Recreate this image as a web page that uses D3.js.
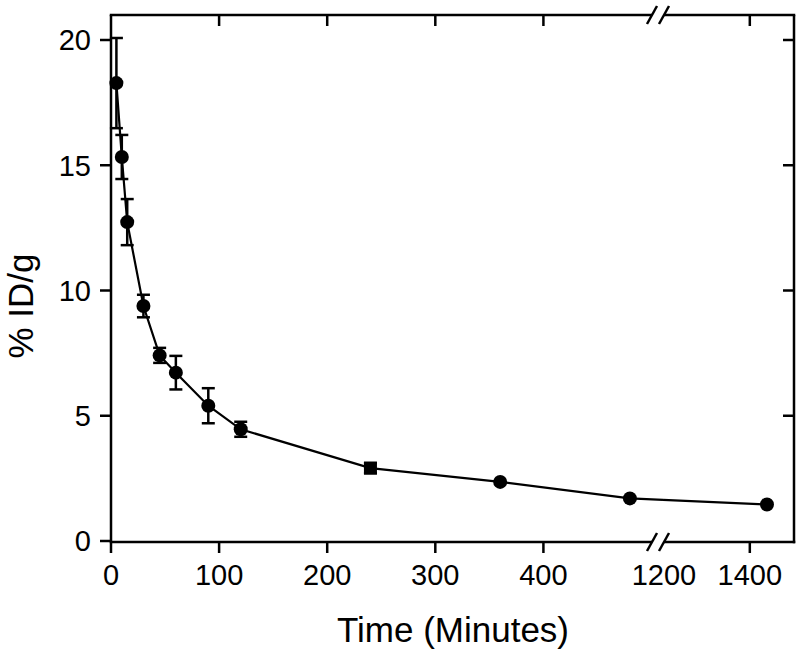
<!DOCTYPE html>
<html>
<head>
<meta charset="utf-8">
<script src="https://cdn.jsdelivr.net/npm/d3@7"></script>
<style>
  body { margin: 0; background: #fff; }
  svg { display: block; }
  text { font-family: "Liberation Sans", Arial, sans-serif; fill: #000; }
</style>
</head>
<body>
<div id="chart"></div>
<script>
// time points (minutes), mean %ID/g, error (+/-)
var times  = [5, 10, 15, 30, 45, 60, 90, 120, 240, 360, 480, 1440];
var values = [18.28, 15.33, 12.73, 9.38, 7.41, 6.72, 5.40, 4.46, 2.91, 2.36, 1.70, 1.46];
var errors = [1.8, 0.88, 0.92, 0.45, 0.3, 0.67, 0.7, 0.3, 0.2, 0, 0, 0];
var markers = ["circle","circle","circle","circle","circle","circle","circle","circle","square","circle","circle","circle"];

var xTicksLeft  = [0, 100, 200, 300, 400];
var xTicksRight = [1200, 1400];
var yTicks      = [0, 5, 10, 15, 20];

var width = 800, height = 654;
var margin = {top: 15, right: 6, bottom: 112, left: 111};
var breakX = 658;       // pixel where the axis is broken
var gapHalf = 6;

var svg = d3.select("#chart").append("svg")
  .attr("width", width)
  .attr("height", height);

var plotRight  = width - margin.right;
var plotBottom = height - margin.bottom;

// two x scales for the broken axis
var xLeft = d3.scaleLinear().domain([0, 506]).range([margin.left, breakX]);
var xRight = d3.scaleLinear().domain([1186, 1503]).range([breakX, plotRight]);
function xPos(t){ return t < 1000 ? xLeft(t) : xRight(t); }

var y = d3.scaleLinear().domain([0, 20]).range([plotBottom - 1, 40]);

var data = times.map(function(t, i){
  return {t: t, v: values[i], e: errors[i], m: markers[i]};
});

// ---- frame ----
var frame = svg.append("g").attr("stroke", "#000").attr("stroke-width", 2.5).attr("fill", "none");
frame.append("line").attr("x1", margin.left).attr("x2", margin.left).attr("y1", margin.top).attr("y2", plotBottom);
frame.append("line").attr("x1", plotRight).attr("x2", plotRight).attr("y1", margin.top).attr("y2", plotBottom + 1.25);
[margin.top, plotBottom].forEach(function(yy){
  frame.append("line").attr("x1", margin.left - 1.25).attr("x2", breakX - gapHalf).attr("y1", yy).attr("y2", yy);
  frame.append("line").attr("x1", breakX + gapHalf).attr("x2", plotRight + 1.25).attr("y1", yy).attr("y2", yy);
  // break marks
  [-gapHalf, gapHalf].forEach(function(dx){
    frame.append("line")
      .attr("x1", breakX + dx - 5).attr("y1", yy + 9)
      .attr("x2", breakX + dx + 5).attr("y2", yy - 9);
  });
});

// ---- ticks ----
var tickLen = 11;
var ticks = svg.append("g").attr("stroke", "#000").attr("stroke-width", 2.5);
xTicksLeft.map(xLeft).concat(xTicksRight.filter(function(d){ return d !== 1200; }).map(xRight))
  .forEach(function(px){
    ticks.append("line").attr("x1", px).attr("x2", px).attr("y1", plotBottom).attr("y2", plotBottom + tickLen);
    if (px > margin.left + 2) {
      ticks.append("line").attr("x1", px).attr("x2", px).attr("y1", margin.top).attr("y2", margin.top + tickLen);
    }
  });
yTicks.forEach(function(v){
  var py = y(v);
  ticks.append("line").attr("x1", margin.left - tickLen).attr("x2", margin.left).attr("y1", py).attr("y2", py);
  if (v > 0) {
    ticks.append("line").attr("x1", plotRight - tickLen).attr("x2", plotRight).attr("y1", py).attr("y2", py);
  }
});

// ---- tick labels ----
var labels = svg.append("g").style("font-size", "29px");
xTicksLeft.forEach(function(t){
  labels.append("text").attr("x", xLeft(t)).attr("y", 585).attr("text-anchor", "middle").text(t);
});
xTicksRight.forEach(function(t){
  labels.append("text").attr("x", xRight(t)).attr("y", 585).attr("text-anchor", "middle").text(t);
});
yTicks.forEach(function(v){
  labels.append("text").attr("x", 91).attr("y", y(v)).attr("dy", "0.36em").attr("text-anchor", "end").text(v);
});

// ---- axis titles ----
svg.append("text")
  .attr("x", 453).attr("y", 642)
  .attr("text-anchor", "middle")
  .style("font-size", "35px")
  .text("Time (Minutes)");
svg.append("text")
  .attr("transform", "translate(33,306) rotate(-90)")
  .attr("text-anchor", "middle")
  .style("font-size", "35px")
  .text("% ID/g");

// ---- connecting line (gap at the break) ----
var line = d3.line().x(function(d){ return d[0]; }).y(function(d){ return d[1]; });
var pts = data.map(function(d){ return [xPos(d.t), y(d.v)]; });
var leftPts = pts.slice(0, pts.length - 1);
var a = pts[pts.length - 2], b = pts[pts.length - 1];
var interp = d3.interpolate(a, b);
var fGapL = (breakX - 7 - a[0]) / (b[0] - a[0]);
var fGapR = (breakX + 5 - a[0]) / (b[0] - a[0]);
leftPts.push(interp(fGapL));
var rightPts = [interp(fGapR), b];

var lines = svg.append("g").attr("fill", "none").attr("stroke", "#000").attr("stroke-width", 2.2);
lines.append("path").attr("d", line(leftPts));
lines.append("path").attr("d", line(rightPts));

// ---- error bars ----
var eb = svg.append("g").attr("stroke", "#000").attr("stroke-width", 2.5);
data.filter(function(d){ return d.e > 0; }).forEach(function(d){
  var px = xPos(d.t);
  eb.append("line").attr("x1", px).attr("x2", px).attr("y1", y(d.v + d.e)).attr("y2", y(d.v - d.e));
  [d.v + d.e, d.v - d.e].forEach(function(v){
    eb.append("line").attr("x1", px - 6.5).attr("x2", px + 6.5).attr("y1", y(v)).attr("y2", y(v));
  });
});

// ---- markers ----
var mk = svg.append("g").attr("fill", "#000");
data.forEach(function(d){
  var px = xPos(d.t), py = y(d.v);
  if (d.m === "square") {
    mk.append("rect").attr("x", px - 6.5).attr("y", py - 6.5).attr("width", 13).attr("height", 13);
  } else {
    mk.append("circle").attr("cx", px).attr("cy", py).attr("r", 7);
  }
});
</script>
</body>
</html>
